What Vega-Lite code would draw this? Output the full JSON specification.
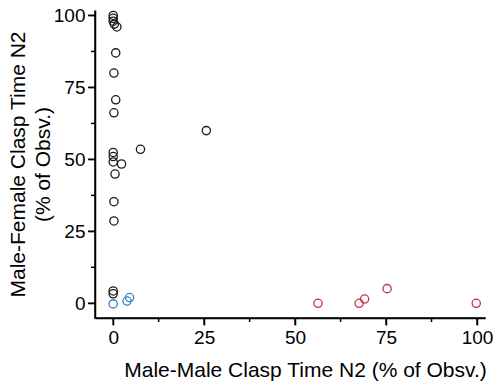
{
  "$schema": "https://vega.github.io/schema/vega-lite/v6.json",
  "width": 390,
  "height": 308,
  "autosize": {"type": "none"},
  "padding": {"left": 95, "top": 10, "right": 15, "bottom": 69},
  "background": "white",
  "config": {
    "view": {"stroke": null},
    "font": "Liberation Sans",
    "axis": {
      "grid": false,
      "zindex": 1,
      "domain": true,
      "domainColor": "#000000",
      "domainWidth": 1.5,
      "ticks": true,
      "tickColor": "#000000",
      "tickWidth": 1.5,
      "tickSize": 7,
      "labelFont": "Liberation Sans",
      "labelFontSize": 19,
      "labelColor": "#000000",
      "titleFont": "Liberation Sans",
      "titleFontSize": 21,
      "titleFontWeight": "normal",
      "titleColor": "#000000"
    }
  },
  "datasets": {
    "points": [
      {"mm": 0, "mf": 100, "group": "A"},
      {"mm": 0, "mf": 99, "group": "A"},
      {"mm": 0, "mf": 98, "group": "A"},
      {"mm": 0.3, "mf": 97, "group": "A"},
      {"mm": 1, "mf": 96, "group": "A"},
      {"mm": 0.7, "mf": 87, "group": "A"},
      {"mm": 0.2, "mf": 80, "group": "A"},
      {"mm": 0.7, "mf": 70.7, "group": "A"},
      {"mm": 0.2, "mf": 66.2, "group": "A"},
      {"mm": 25.6, "mf": 60, "group": "A"},
      {"mm": 7.5, "mf": 53.5, "group": "A"},
      {"mm": 0, "mf": 52.4, "group": "A"},
      {"mm": 0, "mf": 51, "group": "A"},
      {"mm": 0, "mf": 49.1, "group": "A"},
      {"mm": 2.3, "mf": 48.4, "group": "A"},
      {"mm": 0.5, "mf": 44.9, "group": "A"},
      {"mm": 0.2, "mf": 35.3, "group": "A"},
      {"mm": 0.2, "mf": 28.6, "group": "A"},
      {"mm": 0, "mf": 4.3, "group": "A"},
      {"mm": 0, "mf": 3.3, "group": "A"},
      {"mm": 0, "mf": -0.2, "group": "B"},
      {"mm": 3.8, "mf": 0.8, "group": "B"},
      {"mm": 4.5, "mf": 2, "group": "B"},
      {"mm": 56.3, "mf": 0, "group": "C"},
      {"mm": 67.6, "mf": 0, "group": "C"},
      {"mm": 69.1, "mf": 1.5, "group": "C"},
      {"mm": 75.3, "mf": 5.1, "group": "C"},
      {"mm": 99.8, "mf": 0, "group": "C"}
    ],
    "major": [{"v": 0}, {"v": 25}, {"v": 50}, {"v": 75}, {"v": 100}],
    "minor": [{"v": 12.5}, {"v": 37.5}, {"v": 62.5}, {"v": 87.5}],
    "frame": [{"x0": -5, "x1": 102.2, "y0": -5.1, "y1": 101.9}]
  },
  "layer": [
    {
      "data": {"name": "points"},
      "mark": {"type": "point", "shape": "circle", "filled": false, "size": 68, "strokeWidth": 1.3, "opacity": 1},
      "encoding": {
        "x": {
          "field": "mm",
          "type": "quantitative",
          "scale": {"domain": [-5, 102.2], "nice": false, "zero": false},
          "axis": {
            "title": "Male-Male Clasp Time N2 (% of Obsv.)",
            "values": [0, 25, 50, 75, 100],
            "labelPadding": 3,
            "labelFlush": false,
            "titleX": 210,
            "titleY": 52,
            "titleBaseline": "middle",
            "titleAlign": "center"
          }
        },
        "y": {
          "field": "mf",
          "type": "quantitative",
          "scale": {"domain": [-5.1, 101.9], "nice": false, "zero": false},
          "axis": {
            "title": ["Male-Female Clasp Time N2", "(% of Obsv.)"],
            "values": [0, 25, 50, 75, 100],
            "labelPadding": 3,
            "labelFlush": false,
            "titleAngle": -90,
            "titleX": -77,
            "titleY": 154,
            "titleAlign": "center",
            "titleBaseline": "middle",
            "titleLineHeight": 25
          }
        },
        "color": {
          "field": "group",
          "type": "nominal",
          "scale": {"domain": ["A", "B", "C"], "range": ["#1a1a1a", "#3a82c8", "#c8323f"]},
          "legend": null
        }
      }
    },
    {
      "data": {"name": "frame"},
      "mark": {"type": "rect", "fill": "#000000", "stroke": null, "yOffset": -0.75, "y2Offset": 0.75, "x2Offset": 0.75, "xOffset": -0.75},
      "encoding": {
        "x": {"field": "x0", "type": "quantitative"},
        "x2": {"field": "x1"},
        "y": {"field": "y0", "type": "quantitative"},
        "y2": {"field": "y0"}
      }
    },
    {
      "data": {"name": "frame"},
      "mark": {"type": "rect", "fill": "#000000", "stroke": null, "xOffset": -0.75, "x2Offset": 0.75, "y2Offset": 0.75},
      "encoding": {
        "x": {"field": "x0", "type": "quantitative"},
        "x2": {"field": "x0"},
        "y": {"field": "y0", "type": "quantitative"},
        "y2": {"field": "y1"}
      }
    },
    {
      "data": {"name": "major"},
      "mark": {"type": "rect", "fill": "#000000", "stroke": null, "xOffset": -0.75, "x2Offset": 0.75, "y2Offset": 7},
      "encoding": {
        "x": {"field": "v", "type": "quantitative"},
        "x2": {"field": "v"},
        "y": {"datum": -5.1, "type": "quantitative"},
        "y2": {"datum": -5.1}
      }
    },
    {
      "data": {"name": "minor"},
      "mark": {"type": "rect", "fill": "#000000", "stroke": null, "xOffset": -0.75, "x2Offset": 0.75, "y2Offset": 4},
      "encoding": {
        "x": {"field": "v", "type": "quantitative"},
        "x2": {"field": "v"},
        "y": {"datum": -5.1, "type": "quantitative"},
        "y2": {"datum": -5.1}
      }
    },
    {
      "data": {"name": "major"},
      "mark": {"type": "rect", "fill": "#000000", "stroke": null, "yOffset": -0.75, "y2Offset": 0.75, "x2Offset": -7},
      "encoding": {
        "y": {"field": "v", "type": "quantitative"},
        "y2": {"field": "v"},
        "x": {"datum": -5, "type": "quantitative"},
        "x2": {"datum": -5}
      }
    },
    {
      "data": {"name": "minor"},
      "mark": {"type": "rect", "fill": "#000000", "stroke": null, "yOffset": -0.75, "y2Offset": 0.75, "x2Offset": -4},
      "encoding": {
        "y": {"field": "v", "type": "quantitative"},
        "y2": {"field": "v"},
        "x": {"datum": -5, "type": "quantitative"},
        "x2": {"datum": -5}
      }
    }
  ]
}
